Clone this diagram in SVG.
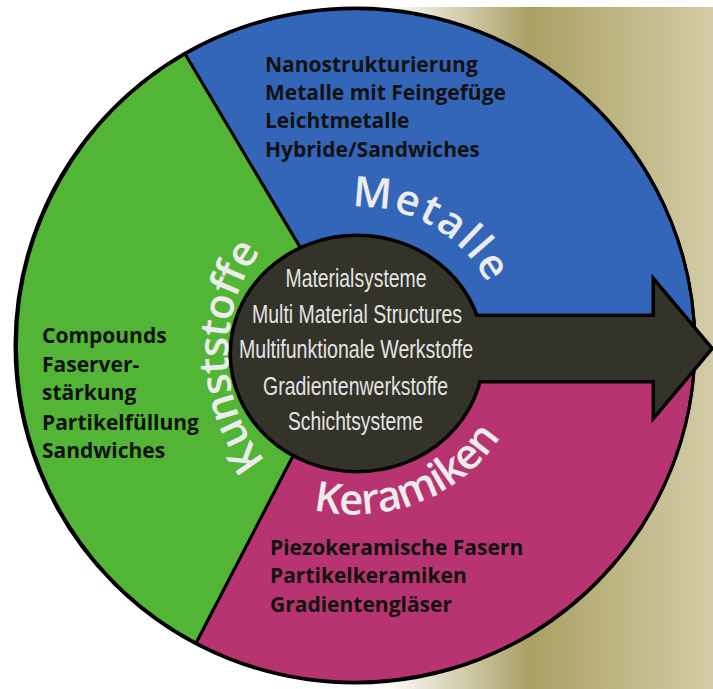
<svg xmlns="http://www.w3.org/2000/svg" width="713" height="689" viewBox="0 0 713 689">
  <defs>
    <linearGradient id="bgGrad" x1="0" y1="0" x2="1" y2="0">
      <stop offset="0" stop-color="#ffffff"/>
      <stop offset="0.44" stop-color="#aaa064"/>
      <stop offset="1" stop-color="#d3cca6"/>
    </linearGradient>
    <path id="arcMetalle" d="M351.9,207.1 A146,146 0 0 1 489.3,286.7"/>
    <path id="arcKunststoffe" d="M265.8,461.2 A129,153 0 0 1 270.7,239.3"/>
    <path id="arcKeramiken" d="M313.3,509.8 A172,162 0 0 0 505.9,428"/>
  </defs>
  <style>
    .sector { stroke: #000; stroke-width: 3; stroke-linejoin: round; }
    .list { font-family: "Open Sans", "Liberation Sans", sans-serif; font-weight: 700; font-size: 21px; fill: #111111; }
    .inner { font-family: "Liberation Sans Narrow", "Liberation Sans", sans-serif; font-size: 26px; fill: #e4e4e4; text-anchor: middle; }
    .ring { font-family: "Open Sans", "Liberation Sans", sans-serif; font-weight: 600; font-size: 42px; fill: #ececec; }
    .dark { fill: #33332a; }
  </style>

  <rect x="0" y="0" width="713" height="689" fill="#ffffff"/>
  <rect x="385" y="7" width="328" height="682" fill="url(#bgGrad)"/>

  <g id="sector-metalle">
    <path class="sector" fill="#3366b8" d="M354,338 L185,54 A340,337.5 0 0 1 695,345.5 Z"/>
    <text class="list" x="265" y="72">Nanostrukturierung</text>
    <text class="list" x="265" y="100">Metalle mit Feingefüge</text>
    <text class="list" x="265" y="128">Leichtmetalle</text>
    <text class="list" x="265" y="157">Hybride/Sandwiches</text>
  </g>

  <g id="sector-keramiken">
    <path class="sector" fill="#b83470" d="M354,338 L695,345.5 A340,337.5 0 0 1 196,643 Z"/>
    <text class="list" x="270" y="555">Piezokeramische Fasern</text>
    <text class="list" x="270" y="583">Partikelkeramiken</text>
    <text class="list" x="270" y="612">Gradientengläser</text>
  </g>

  <g id="sector-kunststoffe">
    <path class="sector" fill="#52b535" d="M354,338 L196,643 A340,337.5 0 0 1 185,54 Z"/>
    <text class="list" x="42" y="343">Compounds</text>
    <text class="list" x="42" y="372">Faserver-</text>
    <text class="list" x="42" y="400">stärkung</text>
    <text class="list" x="42" y="430">Partikelfüllung</text>
    <text class="list" x="42" y="458">Sandwiches</text>
  </g>

  <ellipse cx="355" cy="345.5" rx="340" ry="337.5" fill="none" stroke="#000" stroke-width="3"/>

  <g id="connectors">
    <g id="arrow-outline" fill="#000" stroke="#000" stroke-width="7" stroke-linejoin="miter">
      <ellipse cx="357" cy="353.5" rx="125" ry="116.5"/>
      <polygon points="400,317 655,317 655,283 710,348.5 655,414 655,380 400,380"/>
    </g>
    <g id="arrow-fill" class="dark">
      <ellipse cx="357" cy="353.5" rx="125" ry="116.5"/>
      <polygon points="400,317 655,317 655,283 710,348.5 655,414 655,380 400,380"/>
    </g>
  </g>

  <g id="center-node">
    <text class="inner" x="356" y="287" textLength="141" lengthAdjust="spacingAndGlyphs">Materialsysteme</text>
    <text class="inner" x="357" y="323" textLength="210" lengthAdjust="spacingAndGlyphs">Multi Material Structures</text>
    <text class="inner" x="356" y="358" textLength="234" lengthAdjust="spacingAndGlyphs">Multifunktionale Werkstoffe</text>
    <text class="inner" x="355.5" y="395" textLength="185" lengthAdjust="spacingAndGlyphs">Gradientenwerkstoffe</text>
    <text class="inner" x="355.5" y="430" textLength="135" lengthAdjust="spacingAndGlyphs">Schichtsysteme</text>
  </g>

  <g id="ring-labels">
    <text class="ring"><textPath href="#arcMetalle" textLength="164" lengthAdjust="spacing">Metalle</textPath></text>
    <text class="ring"><textPath href="#arcKunststoffe" textLength="226" lengthAdjust="spacing">Kunststoffe</textPath></text>
    <text class="ring"><textPath href="#arcKeramiken" textLength="214" lengthAdjust="spacing">Keramiken</textPath></text>
  </g>
</svg>
